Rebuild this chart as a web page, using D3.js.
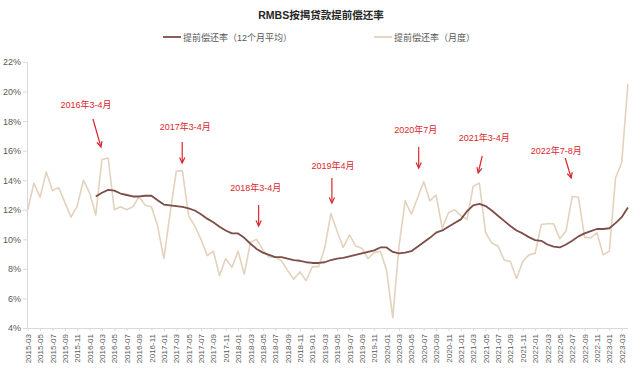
<!DOCTYPE html>
<html>
<head>
<meta charset="utf-8">
<script src="https://cdn.jsdelivr.net/npm/d3@7"></script>
<style>
  html, body { margin: 0; padding: 0; background: #fff; }
  svg { display: block; font-family: "Liberation Sans", Arial, "Noto Sans CJK SC", sans-serif; }
</style>
</head>
<body>
<svg id="chart" width="640" height="379"></svg>
<script>
// ---------------- DATA ----------------
const months = [
  "2015-03","2015-04","2015-05","2015-06","2015-07","2015-08","2015-09","2015-10","2015-11","2015-12",
  "2016-01","2016-02","2016-03","2016-04","2016-05","2016-06","2016-07","2016-08","2016-09","2016-10","2016-11","2016-12",
  "2017-01","2017-02","2017-03","2017-04","2017-05","2017-06","2017-07","2017-08","2017-09","2017-10","2017-11","2017-12",
  "2018-01","2018-02","2018-03","2018-04","2018-05","2018-06","2018-07","2018-08","2018-09","2018-10","2018-11","2018-12",
  "2019-01","2019-02","2019-03","2019-04","2019-05","2019-06","2019-07","2019-08","2019-09","2019-10","2019-11","2019-12",
  "2020-01","2020-02","2020-03","2020-04","2020-05","2020-06","2020-07","2020-08","2020-09","2020-10","2020-11","2020-12",
  "2021-01","2021-02","2021-03","2021-04","2021-05","2021-06","2021-07","2021-08","2021-09","2021-10","2021-11","2021-12",
  "2022-01","2022-02","2022-03","2022-04","2022-05","2022-06","2022-07","2022-08","2022-09","2022-10","2022-11","2022-12",
  "2023-01","2023-02","2023-03","2023-04"
];

// 提前偿还率（月度）, %
const monthlyRate = [
  12.0, 13.8, 12.85, 14.55, 13.3, 13.5, 12.5, 11.5, 12.25, 14.0,
  13.15, 11.65, 15.4, 15.5, 12.0, 12.2, 12.0, 12.2, 12.9, 12.3, 12.2, 10.9,
  8.7, 11.7, 14.6, 14.65, 11.6, 10.9, 10.0, 8.9, 9.2, 7.55, 8.7, 8.1,
  9.2, 7.65, 9.8, 10.0, 9.3, 8.8, 8.8, 8.55, 7.9, 7.3, 7.8, 7.2,
  8.15, 8.15, 9.4, 11.75, 10.55, 9.45, 10.3, 9.55, 9.4, 8.7, 9.1, 9.2,
  7.9, 4.7, 9.5, 12.6, 11.7, 12.8, 13.9, 12.6, 13.0, 10.75, 11.8, 12.0,
  11.6, 11.35, 13.6, 13.8, 10.45, 9.75, 9.55, 8.6, 8.5, 7.35, 8.5, 8.95,
  9.05, 11.0, 11.05, 11.05, 10.05, 10.55, 12.9, 12.85, 10.15, 10.1, 10.45, 8.95,
  9.2, 14.15, 15.2, 20.5
];

// 提前偿还率（12个月平均）, %
const avg12Rate = [
  null, null, null, null, null, null, null, null, null, null,
  null, 12.9, 13.15, 13.35, 13.3, 13.1, 13.0, 12.9, 12.9, 12.95, 12.95, 12.65,
  12.35, 12.3, 12.25, 12.2, 12.1, 11.95, 11.7, 11.4, 11.15, 10.85, 10.6, 10.4,
  10.4, 10.1, 9.7, 9.35, 9.1, 8.95, 8.8, 8.8, 8.7, 8.6, 8.55, 8.45,
  8.4, 8.4, 8.45, 8.6, 8.7, 8.75, 8.85, 8.95, 9.05, 9.15, 9.25, 9.45,
  9.45, 9.15, 9.05, 9.1, 9.2, 9.5, 9.8, 10.1, 10.45, 10.6, 10.85, 11.1,
  11.35, 11.9, 12.3, 12.4, 12.25, 11.95, 11.6, 11.25, 10.9, 10.6, 10.4, 10.15,
  9.95, 9.9, 9.65, 9.5, 9.45, 9.65, 9.9, 10.2, 10.4, 10.55, 10.7, 10.7,
  10.75, 11.1, 11.5, 12.15
];

const yTicks = [4, 6, 8, 10, 12, 14, 16, 18, 20, 22];
const xTickLabels = months.filter((m, i) => i % 2 === 0);

const seriesNames = ["提前偿还率（12个月平均）", "提前偿还率（月度）"];
const titleText = "RMBS按揭贷款提前偿还率";

const annotationLabels = ["2016年3-4月", "2017年3-4月", "2018年3-4月", "2019年4月", "2020年7月", "2021年3-4月", "2022年7-8月"];
const annotationMonths = ["2016-03", "2017-03", "2018-04", "2019-04", "2020-07", "2021-03", "2022-07"];

(function draw() {
// ---------------- LAYOUT ----------------
const svg = d3.select("#chart");
const mLeft = 27.7, mRight = 627.9, mTop = 62, mBottom = 328;

const x = d3.scalePoint().domain(months).range([mLeft, mRight]);
const y = d3.scaleLinear().domain([4, 22]).range([mBottom, mTop]);

const axisColor = "#d9d9d9";
const textColor = "#595959";
const avgColor = "#7d4d48";
const monthColor = "#e3d2bd";
const red = "#d9272e";

// Title
svg.append("text")
  .attr("x", 321).attr("y", 19)
  .attr("text-anchor", "middle")
  .attr("font-size", 10.5).attr("font-weight", "bold")
  .attr("fill", "#262626")
  .text(titleText);

// Legend
const legend = [
  { name: seriesNames[0], color: avgColor, x0: 163 },
  { name: seriesNames[1], color: monthColor, x0: 374 }
];
legend.forEach(l => {
  svg.append("line")
    .attr("x1", l.x0).attr("x2", l.x0 + 18)
    .attr("y1", 37).attr("y2", 37)
    .attr("stroke", l.color).attr("stroke-width", 1.8);
  svg.append("text")
    .attr("x", l.x0 + 20).attr("y", 40.5)
    .attr("font-size", 9).attr("fill", textColor)
    .text(l.name);
});

// Y axis
const yAxis = d3.axisLeft(y)
  .tickValues(yTicks)
  .tickSize(4)
  .tickPadding(2)
  .tickFormat(d => d + "%");
const gy = svg.append("g").attr("transform", `translate(${mLeft - 0.7},0)`).call(yAxis);
gy.select(".domain").attr("stroke", axisColor);
gy.selectAll(".tick line").attr("stroke", axisColor);
gy.selectAll(".tick text").attr("fill", textColor).attr("font-size", 9)
  .attr("font-family", "'Liberation Sans', Arial, sans-serif");

// X axis
const xAxis = d3.axisBottom(x)
  .tickValues(xTickLabels)
  .tickSize(3)
  .tickSizeOuter(0)
  .tickPadding(3);
const gx = svg.append("g").attr("transform", `translate(0,${mBottom})`).call(xAxis);
gx.select(".domain").attr("stroke", axisColor);
gx.selectAll(".tick line").attr("stroke", axisColor);
gx.selectAll(".tick text")
  .attr("fill", textColor).attr("font-size", 8)
  .attr("font-family", "'Liberation Sans', Arial, sans-serif")
  .attr("text-anchor", "end")
  .attr("transform", "rotate(-90)")
  .attr("x", -6).attr("y", 0).attr("dy", "0.33em");

// Lines
const lineGen = d3.line()
  .defined(d => d.v !== null)
  .x(d => x(d.m))
  .y(d => y(d.v));

svg.append("path")
  .datum(months.map((m, i) => ({ m, v: monthlyRate[i] })))
  .attr("fill", "none")
  .attr("stroke", monthColor)
  .attr("stroke-width", 1.6)
  .attr("stroke-linejoin", "round")
  .attr("d", lineGen);

svg.append("path")
  .datum(months.map((m, i) => ({ m, v: avg12Rate[i] })))
  .attr("fill", "none")
  .attr("stroke", avgColor)
  .attr("stroke-width", 1.8)
  .attr("stroke-linejoin", "round")
  .attr("d", lineGen);

// Annotations (layout offsets relative to the annotated month)
const annLayout = [
  { tx: -16, ty: 105, ax1: -9, ay1: 119, ax2: -1, ay2: 147 },
  { tx: 9,   ty: 127, ax1: 6,  ay1: 142, ax2: 6,  ay2: 163 },
  { tx: -1,  ty: 188, ax1: 2,  ay1: 205, ax2: 2,  ay2: 226 },
  { tx: 2,   ty: 166, ax1: 1,  ay1: 178, ax2: 1,  ay2: 203 },
  { tx: -8,  ty: 130, ax1: -5, ay1: 147, ax2: -5, ay2: 168 },
  { tx: 11,  ty: 138, ax1: 9,  ay1: 156, ax2: 5,  ay2: 173 },
  { tx: -16, ty: 151, ax1: -7, ay1: 158, ax2: -1, ay2: 178 }
];
annotationLabels.forEach((lab, i) => {
  const cx = x(annotationMonths[i]);
  const L = annLayout[i];
  svg.append("text")
    .attr("x", cx + L.tx).attr("y", L.ty + 3.3)
    .attr("text-anchor", "middle")
    .attr("font-size", 9).attr("fill", red)
    .text(lab);
  const x1 = cx + L.ax1, y1 = L.ay1, x2 = cx + L.ax2, y2 = L.ay2;
  svg.append("line")
    .attr("x1", x1).attr("y1", y1).attr("x2", x2).attr("y2", y2)
    .attr("stroke", red).attr("stroke-width", 1.2);
  const ang = Math.atan2(y2 - y1, x2 - x1);
  const hl = 6, ha = 0.45;
  const p1 = [x2 - hl * Math.cos(ang - ha), y2 - hl * Math.sin(ang - ha)];
  const p2 = [x2 - hl * Math.cos(ang + ha), y2 - hl * Math.sin(ang + ha)];
  svg.append("path")
    .attr("d", `M${p1[0]},${p1[1]}L${x2},${y2}L${p2[0]},${p2[1]}`)
    .attr("fill", "none").attr("stroke", red).attr("stroke-width", 1.2);
});
})();
</script>
</body>
</html>
